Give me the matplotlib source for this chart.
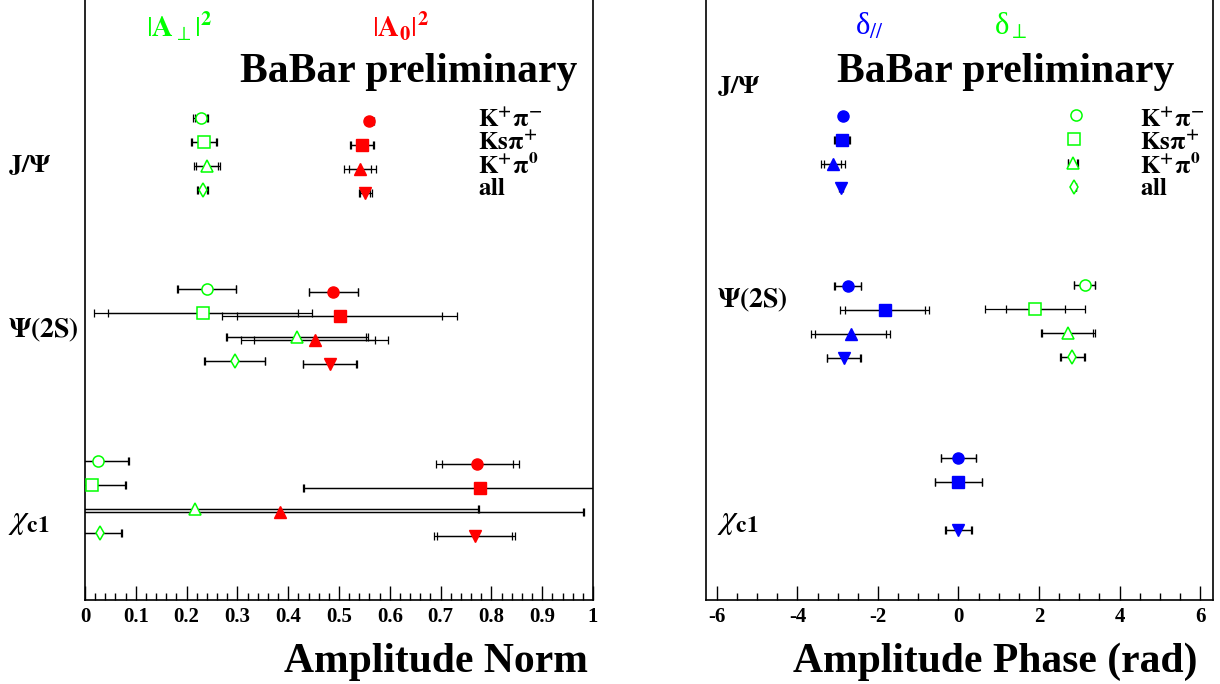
import numpy as np
import matplotlib
matplotlib.use("Agg")
import matplotlib.pyplot as plt
from matplotlib.ticker import MultipleLocator

plt.rcParams['font.family'] = ['Liberation Serif', 'DejaVu Serif']
plt.rcParams['mathtext.fontset'] = 'stix'
plt.rcParams['axes.unicode_minus'] = False

channels = [r'$\mathbf{K^{+}\pi^{-}}$', r'$\mathbf{Ks\pi^{+}}$', r'$\mathbf{K^{+}\pi^{0}}$', r'$\mathbf{all}$']
resonances = [r'$\mathbf{J/\Psi}$', r'$\mathbf{\Psi(2S)}$', r'$\chi_{\mathbf{c1}}$']

# |A_perp|^2 (green), rows = J/psi, psi(2S), chi_c1 ; cols = channels
aperp = [[0.228, 0.234, 0.240, 0.232],
         [0.240, 0.232, 0.417, 0.295],
         [0.026, 0.013, 0.2165, 0.029]]
aperp_stat = [[0.012, 0.024, 0.022, 0.009],
              [0.057, 0.187, 0.137, 0.059],
              [0.059, 0.066, 0.558, 0.042]]
aperp_tot = [[0.015, 0.026, 0.026, 0.011],
             [0.058, 0.215, 0.140, 0.060],
             [0.060, 0.068, 0.560, 0.043]]

# |A_0|^2 (red)
a0 = [[0.560, 0.545, 0.541, 0.552],
      [0.489, 0.501, 0.452, 0.482],
      [0.772, 0.777, 0.383, 0.767]]
a0_stat = [[0.007, 0.022, 0.022, 0.010],
           [0.048, 0.202, 0.119, 0.052],
           [0.070, 0.346, 0.598, 0.074]]
a0_tot = [[0.008, 0.023, 0.031, 0.012],
          [0.049, 0.232, 0.144, 0.053],
          [0.082, 0.347, 0.599, 0.080]]

# delta_par (blue)
dpar = [[-2.86, -2.89, -3.12, -2.92],
        [-2.75, -1.83, -2.68, -2.85],
        [0.0, 0.0, np.nan, 0.0]]
dpar_stat = [[0.03, 0.18, 0.21, 0.03],
             [0.32, 1.00, 0.89, 0.41],
             [0.43, 0.58, np.nan, 0.32]]
dpar_tot = [[0.04, 0.20, 0.30, 0.04],
            [0.33, 1.11, 0.99, 0.42],
            [0.44, 0.59, np.nan, 0.33]]

# delta_perp (green)
dperp = [[2.91, 2.86, 2.84, 2.88],
         [3.13, 1.905, 2.71, 2.83],
         [np.nan, np.nan, np.nan, np.nan]]
dperp_stat = [[0.04, 0.05, 0.11, 0.03],
              [0.26, 0.73, 0.64, 0.29],
              [np.nan, np.nan, np.nan, np.nan]]
dperp_tot = [[0.05, 0.06, 0.13, 0.04],
             [0.27, 1.24, 0.67, 0.30],
             [np.nan, np.nan, np.nan, np.nan]]

GREEN = '#00ff00'
RED = '#ff0000'
BLUE = '#0000ff'
filled = ['o', 's', '^', 'v']
opened = ['o', 's', '^', 'd']


def draw_series(ax, vals, stat, tot, group_y, offset, color, markers, hollow):
    for i in range(3):
        for j in range(4):
            v = vals[i][j]
            if np.isnan(v):
                continue
            y = group_y[i] + j * 24 + offset
            ax.errorbar(v, y, xerr=tot[i][j], fmt='none', ecolor='black',
                        elinewidth=0.9, capsize=3, capthick=0.9, zorder=2)
            ax.errorbar(v, y, xerr=stat[i][j], fmt='none', ecolor='black',
                        elinewidth=0.9, capsize=3, capthick=0.9, zorder=2)
            ms = 8 if markers[j] != 'd' else 7
            if hollow:
                ax.plot(v, y, marker=markers[j], ms=ms, mfc='white', mec=color,
                        mew=1.1, ls='none', zorder=3)
            else:
                ax.plot(v, y, marker=markers[j], ms=ms, mfc=color, mec=color,
                        ls='none', zorder=3)


def style_axis(ax):
    ax.set_ylim(600, -14)
    ax.set_yticks([])
    ax.tick_params(axis='x', direction='in', length=10, width=1, labelsize=15, pad=5)
    ax.tick_params(axis='x', which='minor', direction='in', length=5, width=1)
    for s in ax.spines.values():
        s.set_linewidth(1.2)
    for lbl in ax.get_xticklabels():
        lbl.set_fontweight('bold')


fig = plt.figure(figsize=(12.2, 6.84), dpi=100)
ax1 = fig.add_axes([85 / 1220, 1 - 600 / 684, 508 / 1220, 614 / 684])
ax2 = fig.add_axes([706 / 1220, 1 - 600 / 684, 507 / 1220, 614 / 684])

# left panel: amplitude norms
draw_series(ax1, aperp, aperp_stat, aperp_tot, [118, 289, 461], 0, GREEN, opened, True)
draw_series(ax1, a0, a0_stat, a0_tot, [118, 289, 461], 3, RED, filled, False)
ax1.set_xlim(0, 1)
ax1.xaxis.set_minor_locator(MultipleLocator(0.02))
ax1.set_xticks(np.arange(0, 1.01, 0.1))
ax1.set_xticklabels(['0', '0.1', '0.2', '0.3', '0.4', '0.5', '0.6', '0.7', '0.8', '0.9', '1'])
style_axis(ax1)
ax1.set_xlabel('Amplitude Norm', fontsize=30, fontweight='bold', ha='right', va='top')
ax1.xaxis.set_label_coords(0.990, -0.070)

ax1.text(0.185, 27, r'$|\mathbf{A}_{\perp}|^{\mathbf{2}}$', color=GREEN, fontsize=21, ha='center', va='center')
ax1.text(0.620, 27, r'$|\mathbf{A}_{\mathbf{0}}|^{\mathbf{2}}$', color=RED, fontsize=21, ha='center', va='center')
ax1.text(0.638, 72, 'BaBar preliminary', fontsize=30, fontweight='bold', ha='center', va='center')
for j, ch in enumerate(channels):
    ax1.text(0.774, 120 + j * 23, ch, fontsize=18, ha='left', va='center')

fig.text(8 / 1220, 1 - 165 / 684, resonances[0], fontsize=19, ha='left', va='center')
fig.text(8 / 1220, 1 - 330 / 684, resonances[1], fontsize=20, ha='left', va='center')
fig.text(8 / 1220, 1 - 522 / 684, resonances[2], fontsize=24, ha='left', va='center')

# right panel: amplitude phases
draw_series(ax2, dpar, dpar_stat, dpar_tot, [116, 286, 458], 0, BLUE, filled, False)
draw_series(ax2, dperp, dperp_stat, dperp_tot, [116, 286, 458], -1, GREEN, opened, True)
ax2.set_xlim(-6.27, 6.32)
ax2.xaxis.set_major_locator(MultipleLocator(2))
ax2.xaxis.set_minor_locator(MultipleLocator(0.5))
style_axis(ax2)
ax2.set_xlabel('Amplitude Phase (rad)', fontsize=30, fontweight='bold', ha='right', va='top')
ax2.xaxis.set_label_coords(0.970, -0.070)

ax2.text(-2.21, 27, 'δ$_{//}$', color=BLUE, fontsize=22, ha='center', va='center')
ax2.text(1.29, 27, 'δ$_{\\perp}$', color=GREEN, fontsize=22, ha='center', va='center')
ax2.text(1.17, 72, 'BaBar preliminary', fontsize=30, fontweight='bold', ha='center', va='center')
for j, ch in enumerate(channels):
    ax2.text(4.5, 120 + j * 23, ch, fontsize=18, ha='left', va='center')
ax2.text(-5.99, 86, resonances[0], fontsize=19, ha='left', va='center')
ax2.text(-5.99, 300, resonances[1], fontsize=20, ha='left', va='center')
ax2.text(-5.99, 522, resonances[2], fontsize=24, ha='left', va='center')

fig.savefig('out.png', dpi=100)
